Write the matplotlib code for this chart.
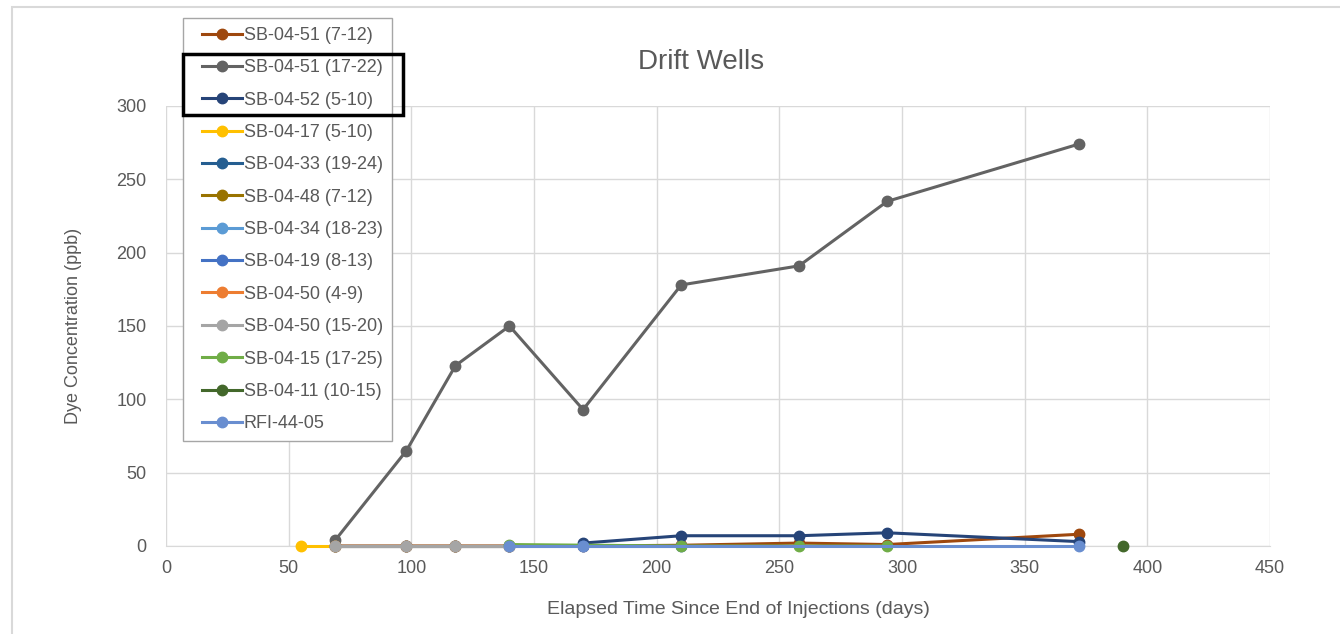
import matplotlib.pyplot as plt
from matplotlib.patches import Rectangle
from matplotlib.lines import Line2D
from matplotlib.legend_handler import HandlerLine2D

# series data (days, ppb)
labels = ["SB-04-51 (7-12)", "SB-04-51 (17-22)", "SB-04-52 (5-10)", "SB-04-17 (5-10)",
          "SB-04-33 (19-24)", "SB-04-48 (7-12)", "SB-04-34 (18-23)", "SB-04-19 (8-13)",
          "SB-04-50 (4-9)", "SB-04-50 (15-20)", "SB-04-15 (17-25)", "SB-04-11 (10-15)",
          "RFI-44-05"]
colors = ["#9E480E", "#636363", "#264478", "#FFC000", "#255E91", "#997300", "#5B9BD5",
          "#4472C4", "#ED7D31", "#A5A5A5", "#70AD47", "#43682B", "#698ED0"]

sb51a_x = [69, 98, 118, 140, 170, 210, 258, 294, 372]
sb51a_y = [0, 0, 0, 0, 0, 0.5, 2, 1, 8]
sb51b_x = [69, 98, 118, 140, 170, 210, 258, 294, 372]
sb51b_y = [4, 65, 123, 150, 93, 178, 191, 235, 274]
sb52_x = [170, 210, 258, 294, 372]
sb52_y = [2, 7, 7, 9, 3]
sb17_x = [55, 69]
sb17_y = [0, 0]
sb33_x = [69, 98, 118, 140]
sb33_y = [0, 0, 0, 0]
sb48_x = [69, 98, 118, 140]
sb48_y = [0, 0, 0, 0]
sb34_x = [69, 98, 118, 140]
sb34_y = [0, 0, 0, 0]
sb19_x = [140, 170, 210]
sb19_y = [0, 0, 0]
sb50a_x = [69, 98, 118, 140]
sb50a_y = [0, 0, 0, 0]
sb50b_x = [69, 98, 118, 140]
sb50b_y = [0, 0, 0, 0]
sb15_x = [140, 210, 258, 294]
sb15_y = [1, 0, 0, 0]
sb11_x = [390]
sb11_y = [0]
rfi_x = [140, 170, 372]
rfi_y = [0, 0, 0]

xs = [sb51a_x, sb51b_x, sb52_x, sb17_x, sb33_x, sb48_x, sb34_x, sb19_x,
      sb50a_x, sb50b_x, sb15_x, sb11_x, rfi_x]
ys = [sb51a_y, sb51b_y, sb52_y, sb17_y, sb33_y, sb48_y, sb34_y, sb19_y,
      sb50a_y, sb50b_y, sb15_y, sb11_y, rfi_y]

plt.rcParams['font.family'] = ['Liberation Sans', 'DejaVu Sans']
txt = "#595959"

fig = plt.figure(figsize=(13.4, 6.34), dpi=100)
ax = fig.add_axes([166/1340, 1-546/634, (1270-166)/1340, (546-106)/634])

for x, y, c, lab in zip(xs, ys, colors, labels):
    ax.plot(x, y, color=c, lw=2.2, marker='o', ms=7.5, label=lab, clip_on=False, zorder=3)

ax.set_xlim(0, 450)
ax.set_ylim(0, 300)
ax.set_xticks(range(0, 451, 50))
ax.set_yticks(range(0, 301, 50))
ax.grid(True, color="#D9D9D9", lw=1)
ax.set_axisbelow(True)
for s in ["top", "right", "left"]:
    ax.spines[s].set_visible(False)
ax.spines["bottom"].set_color("#D9D9D9")
ax.spines["bottom"].set_zorder(1)
ax.tick_params(axis='y', length=0, labelsize=13, colors=txt, pad=14)
ax.tick_params(axis='x', length=0, labelsize=13, colors=txt, pad=10)

fig.text(701/1340, 1-62/634, "Drift Wells", ha='center', va='center', fontsize=20, color=txt)
fig.text(73/1340, 1-326/634, "Dye Concentration (ppb)", rotation=90, ha='center', va='center',
         fontsize=13, color=txt)
fig.text(738/1340, 1-609/634, "Elapsed Time Since End of Injections (days)", ha='center',
         va='center', fontsize=14, color=txt)

# xpad shifts the legend handles right, like Excel's legend
handler = HandlerLine2D(xpad=0.55)
leg = fig.legend(loc='upper left', bbox_to_anchor=(183/1340, 1-18/634), fontsize=13,
                 labelspacing=0.85, handlelength=2.77, handletextpad=0.1, borderpad=0.5,
                 fancybox=False, framealpha=1, edgecolor="#A6A6A6", borderaxespad=0,
                 handler_map={Line2D: handler})
for t in leg.get_texts():
    t.set_color(txt)

# highlight box around two entries
fig.add_artist(Rectangle((183/1340, 1-115/634), 220/1340, 61/634, transform=fig.transFigure,
                         fill=False, edgecolor="black", lw=2.5, zorder=10))
# chart border
fig.add_artist(Rectangle((12/1340, -0.01), 1.0, 1-7/634 + 0.01, transform=fig.transFigure,
                         fill=False, edgecolor="#D9D9D9", lw=1.5))

fig.savefig("out.png", dpi=100)
